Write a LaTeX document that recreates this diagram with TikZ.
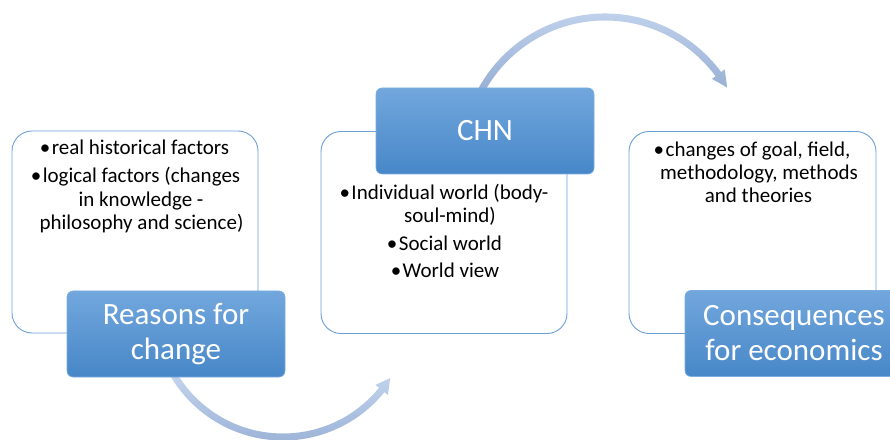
\documentclass[tikz,border=0pt]{standalone}
\usepackage{fontspec}
\setmainfont{Carlito}
\definecolor{wborder}{HTML}{6A9FD8}
\definecolor{btop}{HTML}{72A7DD}
\definecolor{bbot}{HTML}{4787C8}
\definecolor{bedge}{HTML}{7AAEE0}
\definecolor{atop}{HTML}{C9D9F0}
\definecolor{abot}{HTML}{93ACD3}
\begin{document}
\begin{tikzpicture}[x=1pt,y=1pt,
  wbox/.style={draw=wborder, line width=0.9pt, fill=white, rounded corners=20pt, minimum width=246pt, minimum height=202pt, inner sep=0pt},
  bbox/.style={top color=btop, bottom color=bbot, draw=bedge, line width=0.6pt, rounded corners=6pt, minimum width=218pt, minimum height=86pt, inner sep=0pt, text=white, align=center, font=\fontsize{31}{35}\selectfont},
  ltxt/.style={anchor=base, font=\fontsize{21}{24}\selectfont, inner sep=0pt},
  arr/.style={top color=atop, bottom color=abot, draw=none}]
\useasboundingbox (0,0) rectangle (890,439);
% white boxes
\node[wbox] (w1) at (135,207) {};
\node[wbox] (w2) at (444,206.5) {};
\node[wbox, minimum width=247pt] (w3) at (752.5,206.5) {};
% arrows
\coordinate (tc) at (605,281);
\coordinate (bc) at (283,129);
\shade[arr] ([shift={(tc)}]155:144.5) arc[start angle=155, end angle=36.5, radius=144.5]
  -- ([shift={(tc)}]36.5:149) -- ([shift={(tc)}]30:141) -- ([shift={(tc)}]36.5:133)
  -- ([shift={(tc)}]36.5:137.5) arc[start angle=36.5, end angle=155, radius=137.5] -- cycle;
\shade[arr] ([shift={(bc)}]205:130.5) arc[start angle=205, end angle=321, radius=130.5]
  -- ([shift={(bc)}]321:135) -- ([shift={(bc)}]327.6:127) -- ([shift={(bc)}]321:119)
  -- ([shift={(bc)}]321:123.5) arc[start angle=321, end angle=205, radius=123.5] -- cycle;
% blue boxes
\node[bbox] (b1) at (176,105) {Reasons for\\change};
\node[bbox] (b2) at (485,308) {CHN};
\node[bbox] (b3) at (794,105.5) {Consequences\\for economics};
% texts
\node[ltxt] (t11) at (134.5,284) {\textbullet\hspace{1.5pt}real historical factors};
\node[ltxt] (t12) at (135.5,256) {\textbullet\hspace{1.5pt}logical factors (changes};
\node[ltxt] (t13) at (141,232) {in knowledge -};
\node[ltxt] (t14) at (141.5,209) {philosophy and science)};
\node[ltxt] (t21) at (444,239) {\textbullet\hspace{1.5pt}Individual world (body-};
\node[ltxt] (t22) at (450,216) {soul-mind)};
\node[ltxt] (t23) at (444.5,188) {\textbullet\hspace{1.5pt}Social world};
\node[ltxt] (t24) at (445,161) {\textbullet\hspace{1.5pt}World view};
\node[ltxt] (t31) at (752,282) {\textbullet\hspace{1.5pt}changes of goal, field,};
\node[ltxt] (t32) at (759,259) {methodology, methods};
\node[ltxt] (t33) at (758.5,236) {and theories};
\end{tikzpicture}
\end{document}
